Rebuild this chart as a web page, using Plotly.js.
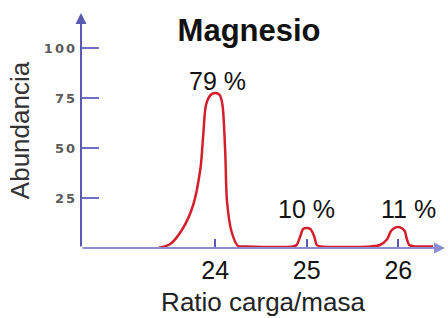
<!DOCTYPE html>
<html>
<head>
<meta charset="utf-8">
<script src="https://cdn.plot.ly/plotly-3.0.1.min.js"></script>
<style>
html,body{margin:0;padding:0;background:#fff;}
#chart{width:448px;height:318px;}
.ytick text{letter-spacing:2px;}
</style>
</head>
<body>
<div id="chart"></div>
<script>
// Spectrum trace (ratio carga/masa vs abundancia)
const ratio = [23.38, 23.51, 23.65, 23.76, 23.84, 23.87, 23.90, 23.95, 24.00, 24.05, 24.08, 24.11, 24.13, 24.18, 24.25, 24.33,
               24.85, 24.89, 24.93, 24.96, 25.00, 25.04, 25.08, 25.11, 25.15,
               25.70, 25.80, 25.88, 25.92, 25.97, 26.02, 26.07, 26.09, 26.12, 26.18, 26.38];
const abundance = [0, 2, 10, 21.5, 40, 56.5, 71.5, 76.5, 77.5, 76.5, 71.5, 48, 23, 8, 1, 0.8,
                   0.8, 1.5, 6, 9.5, 10, 9.5, 6, 1.5, 0.8,
                   0.8, 1.5, 4.5, 8.5, 10.3, 10.3, 8.5, 5, 1.5, 0.8, 0.8];

// Isotope labels
const isotopeMass = [24, 25, 26];
const isotopeLabels = ['79 %', '10 %', '11 %'];
const labelX = [24.03, 25.0, 26.11];
const labelY = [83.5, 19.5, 19.5];

const yTicks = [25, 50, 75, 100];
const yTickText = ['25', '50', '75', '100'];

const axisColor = '#5a5ab4';
const font = 'Liberation Sans, Arial, sans-serif';

const annotations = isotopeLabels.map((t, i) => ({
  x: labelX[i], y: labelY[i], xref: 'x', yref: 'y', text: t, showarrow: false,
  xanchor: 'center', yanchor: 'middle', font: {family: font, size: 25, color: '#111'}
}));
// axis lines with arrowheads
annotations.push({x: 0, y: 1, xref: 'paper', yref: 'paper', ax: 0, ay: 235, axref: 'pixel', ayref: 'pixel',
  showarrow: true, arrowhead: 2, arrowsize: 1.1, arrowwidth: 2, arrowcolor: axisColor, text: '', standoff: 0});
annotations.push({x: 1, y: 0, xref: 'paper', yref: 'paper', ax: -364, ay: 0, axref: 'pixel', ayref: 'pixel',
  showarrow: true, arrowhead: 2, arrowsize: 1.1, arrowwidth: 2, arrowcolor: '#8c8cd0', text: '', standoff: 0});

const data = [{
  x: ratio, y: abundance, type: 'scatter', mode: 'lines',
  line: {color: '#d21f2b', width: 2.5, shape: 'spline', smoothing: 0.8},
  hoverinfo: 'skip', cliponaxis: false
}];

const layout = {
  width: 448, height: 318,
  margin: {l: 81, r: 3, t: 13, b: 70},
  paper_bgcolor: '#fff', plot_bgcolor: '#fff',
  showlegend: false,
  title: {text: '<b>Magnesio</b>', x: 0.556, xanchor: 'center', y: 0.905, yanchor: 'middle',
          font: {family: font, size: 31, color: '#111'}},
  xaxis: {
    range: [22.535, 26.51], showgrid: false, zeroline: false, showline: false,
    tickvals: isotopeMass, ticktext: isotopeMass.map(String),
    ticks: 'inside', ticklen: 9, tickwidth: 2, tickcolor: axisColor,
    tickfont: {family: font, size: 25, color: '#111'}, ticklabelstandoff: 5,
    title: {text: 'Ratio carga/masa', font: {family: font, size: 26, color: '#222'}, standoff: 9}
  },
  yaxis: {
    range: [0, 117.5], showgrid: false, zeroline: false, showline: false,
    tickvals: yTicks, ticktext: yTickText,
    ticks: 'inside', ticklen: 18, tickwidth: 1.5, tickcolor: '#6e6ec4',
    tickfont: {family: 'DejaVu Sans, Verdana, sans-serif', size: 13, color: '#5a5a5a', weight: 'bold'},
    ticklabelstandoff: 3,
    title: {text: 'Abundancia', font: {family: font, size: 26, color: '#333'}, standoff: 6}
  },
  annotations: annotations
};

Plotly.newPlot('chart', data, layout, {staticPlot: true, displayModeBar: false});
</script>
</body>
</html>
